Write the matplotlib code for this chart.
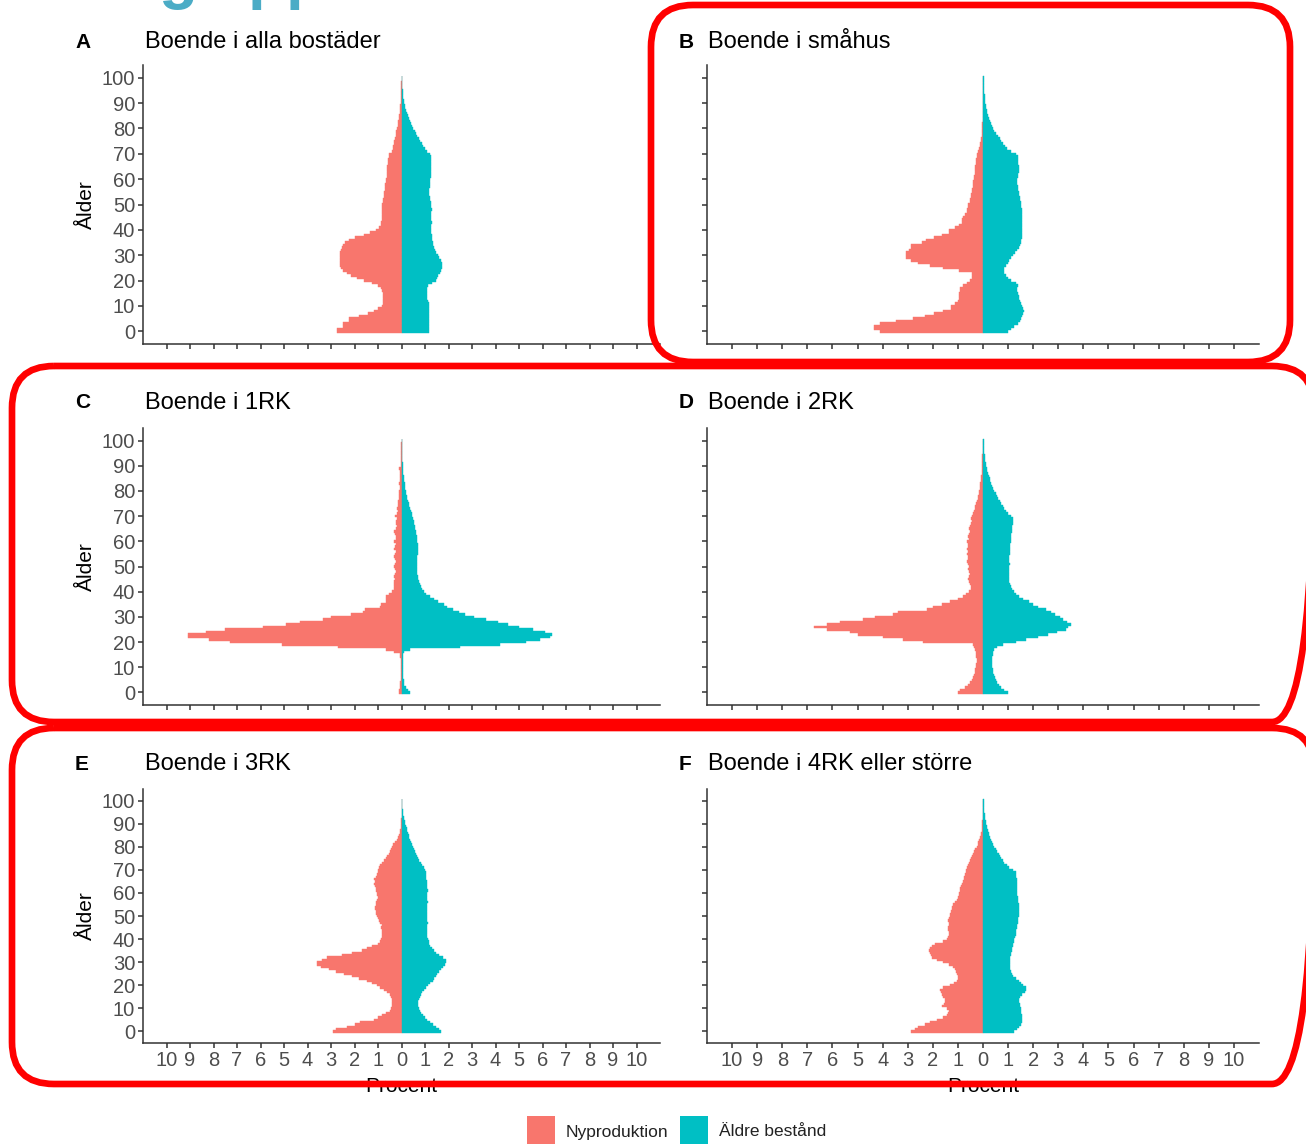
import numpy as np
import matplotlib.pyplot as plt
from matplotlib.patches import FancyBboxPatch, Rectangle

plt.rcParams['font.family'] = ['Liberation Sans', 'DejaVu Sans']

W, H = 1306, 1144
PINK = '#F8766D'
TEAL = '#00BFC4'
GREY = '#4D4D4D'

ages = np.arange(0, 101)

# Procent per ålder (0-100)
# A - alla bostäder
alla_ny = [2.73, 2.73, 2.5, 2.5, 2.24, 2.24, 1.8, 1.43, 1.16, 0.98,
           0.82, 0.8, 0.8, 0.79, 0.79, 0.8, 0.82, 0.86, 0.98, 1.25,
           1.6, 1.88, 2.15, 2.33, 2.48, 2.58, 2.6, 2.62, 2.62, 2.62,
           2.6, 2.6, 2.58, 2.55, 2.5, 2.42, 2.24, 1.97, 1.6, 1.34,
           1.07, 0.94, 0.88, 0.86, 0.85, 0.85, 0.85, 0.84, 0.84, 0.83,
           0.82, 0.8, 0.78, 0.76, 0.75, 0.74, 0.72, 0.7, 0.69, 0.68,
           0.67, 0.63, 0.61, 0.61, 0.6, 0.6, 0.58, 0.56, 0.56, 0.55,
           0.52, 0.42, 0.38, 0.36, 0.34, 0.3, 0.27, 0.25, 0.23, 0.22,
           0.2, 0.17, 0.15, 0.14, 0.12, 0.1, 0.08, 0.07, 0.06, 0.05,
           0.04, 0.03, 0.03, 0.02, 0.02, 0.01, 0.01, 0.01, 0.01, 0.0,
           0.0]
alla_aldre = [1.16, 1.16, 1.16, 1.16, 1.16, 1.16, 1.16, 1.16, 1.16, 1.16,
              1.16, 1.16, 1.14, 1.1, 1.07, 1.07, 1.07, 1.08, 1.12, 1.28,
              1.46, 1.5, 1.55, 1.62, 1.68, 1.72, 1.74, 1.72, 1.68, 1.6,
              1.55, 1.48, 1.42, 1.38, 1.35, 1.32, 1.3, 1.28, 1.28, 1.27,
              1.26, 1.25, 1.26, 1.28, 1.27, 1.25, 1.24, 1.26, 1.28, 1.27,
              1.25, 1.24, 1.22, 1.2, 1.19, 1.18, 1.19, 1.2, 1.2, 1.21,
              1.22, 1.24, 1.25, 1.26, 1.26, 1.27, 1.27, 1.26, 1.25, 1.24,
              1.2, 1.1, 1.0, 0.92, 0.86, 0.8, 0.74, 0.68, 0.62, 0.56,
              0.5, 0.45, 0.4, 0.36, 0.32, 0.28, 0.24, 0.2, 0.17, 0.14,
              0.12, 0.1, 0.08, 0.07, 0.06, 0.05, 0.04, 0.03, 0.03, 0.02,
              0.02]

# B - småhus
smahus_ny = [4.1, 4.33, 4.33, 4.1, 3.45, 2.8, 2.3, 1.95, 1.6, 1.28,
             1.28, 1.1, 0.98, 0.95, 0.95, 0.95, 0.93, 0.9, 0.78, 0.62,
             0.5, 0.45, 0.42, 0.45, 0.95, 1.6, 2.1, 2.6, 2.87, 3.07,
             3.07, 3.07, 2.95, 2.87, 2.87, 2.45, 2.28, 1.95, 1.62, 1.37,
             1.37, 1.12, 0.95, 0.85, 0.82, 0.8, 0.7, 0.65, 0.62, 0.6,
             0.58, 0.52, 0.5, 0.48, 0.46, 0.45, 0.42, 0.4, 0.4, 0.38,
             0.36, 0.34, 0.33, 0.32, 0.32, 0.3, 0.28, 0.27, 0.26, 0.25,
             0.22, 0.18, 0.15, 0.12, 0.1, 0.08, 0.06, 0.05, 0.04, 0.03,
             0.02, 0.02, 0.02, 0.01, 0.01, 0.01, 0.01, 0.01, 0.01, 0.01,
             0.0, 0.0, 0.0, 0.0, 0.0, 0.0, 0.0, 0.0, 0.0, 0.0,
             0.0]
smahus_aldre = [1.0, 1.1, 1.25, 1.4, 1.47, 1.52, 1.56, 1.6, 1.62, 1.6,
                1.56, 1.5, 1.47, 1.45, 1.42, 1.38, 1.36, 1.36, 1.38, 1.3,
                1.1, 0.98, 0.9, 0.84, 0.82, 0.84, 0.9, 0.98, 1.05, 1.12,
                1.2, 1.28, 1.35, 1.42, 1.47, 1.5, 1.52, 1.54, 1.55, 1.56,
                1.56, 1.56, 1.56, 1.55, 1.55, 1.56, 1.56, 1.55, 1.54, 1.52,
                1.5, 1.5, 1.48, 1.46, 1.44, 1.42, 1.4, 1.38, 1.37, 1.36,
                1.36, 1.38, 1.4, 1.42, 1.43, 1.42, 1.4, 1.4, 1.39, 1.38,
                1.3, 1.1, 0.95, 0.88, 0.8, 0.72, 0.66, 0.58, 0.5, 0.44,
                0.4, 0.35, 0.3, 0.26, 0.22, 0.19, 0.16, 0.14, 0.12, 0.1,
                0.09, 0.08, 0.07, 0.06, 0.05, 0.05, 0.04, 0.04, 0.03, 0.03,
                0.02]

# C - 1RK
rk1_ny = [0.12, 0.1, 0.06, 0.05, 0.05, 0.04, 0.04, 0.04, 0.04, 0.04,
          0.04, 0.04, 0.04, 0.04, 0.05, 0.08, 0.3, 0.64, 2.72, 5.1,
          7.3, 8.2, 9.08, 9.08, 8.3, 7.5, 5.9, 4.9, 4.3, 3.36,
          3.0, 2.15, 1.64, 1.55, 0.9, 0.86, 0.64, 0.64, 0.64, 0.55,
          0.4, 0.34, 0.32, 0.3, 0.3, 0.28, 0.3, 0.27, 0.25, 0.28,
          0.3, 0.26, 0.24, 0.28, 0.3, 0.26, 0.25, 0.3, 0.27, 0.25,
          0.32, 0.25, 0.22, 0.26, 0.3, 0.22, 0.2, 0.24, 0.22, 0.2,
          0.26, 0.18, 0.16, 0.2, 0.15, 0.14, 0.16, 0.12, 0.1, 0.12,
          0.1, 0.08, 0.08, 0.1, 0.07, 0.06, 0.06, 0.08, 0.05, 0.1,
          0.04, 0.03, 0.03, 0.02, 0.02, 0.01, 0.01, 0.01, 0.01, 0.01,
          0.0]
rk1_aldre = [0.38, 0.28, 0.18, 0.12, 0.1, 0.09, 0.08, 0.08, 0.07, 0.07,
             0.07, 0.07, 0.07, 0.07, 0.07, 0.08, 0.1, 0.35, 2.5, 4.2,
             5.3, 5.9, 6.3, 6.4, 6.1, 5.6, 5.0, 4.55, 4.1, 3.6,
             3.1, 2.7, 2.45, 2.2, 1.95, 1.8, 1.55, 1.4, 1.2, 1.05,
             0.95, 0.88, 0.82, 0.78, 0.75, 0.72, 0.7, 0.68, 0.67, 0.66,
             0.65, 0.65, 0.66, 0.67, 0.68, 0.69, 0.7, 0.7, 0.7, 0.69,
             0.68, 0.66, 0.64, 0.62, 0.6, 0.58, 0.56, 0.54, 0.52, 0.5,
             0.46, 0.43, 0.4, 0.37, 0.34, 0.31, 0.28, 0.25, 0.22, 0.2,
             0.18, 0.16, 0.14, 0.13, 0.12, 0.1, 0.09, 0.08, 0.07, 0.06,
             0.05, 0.05, 0.04, 0.04, 0.03, 0.03, 0.02, 0.02, 0.02, 0.02,
             0.01]

# D - 2RK
rk2_ny = [1.0, 0.9, 0.7, 0.6, 0.5, 0.42, 0.38, 0.35, 0.32, 0.3,
          0.28, 0.26, 0.25, 0.25, 0.26, 0.27, 0.28, 0.3, 0.35, 0.4,
          2.4, 3.2, 4.0, 5.0, 5.3, 6.2, 6.75, 6.2, 5.7, 4.8,
          4.3, 3.6, 3.4, 2.25, 2.0, 1.65, 1.3, 1.0, 0.8, 0.66,
          0.55, 0.46, 0.46, 0.5, 0.55, 0.58, 0.55, 0.5, 0.56, 0.6,
          0.55, 0.58, 0.62, 0.58, 0.6, 0.65, 0.6, 0.62, 0.58, 0.6,
          0.62, 0.55, 0.58, 0.55, 0.52, 0.56, 0.5, 0.48, 0.45, 0.46,
          0.42, 0.38, 0.36, 0.32, 0.3, 0.27, 0.24, 0.2, 0.18, 0.16,
          0.14, 0.12, 0.11, 0.1, 0.08, 0.07, 0.06, 0.05, 0.05, 0.04,
          0.03, 0.03, 0.02, 0.02, 0.02, 0.01, 0.01, 0.01, 0.01, 0.0,
          0.0]
rk2_aldre = [0.98, 0.85, 0.72, 0.62, 0.55, 0.5, 0.46, 0.42, 0.4, 0.38,
             0.36, 0.35, 0.35, 0.36, 0.36, 0.38, 0.4, 0.45, 0.55, 0.8,
             1.3, 1.7, 2.2, 2.6, 2.95, 3.3, 3.4, 3.5, 3.35, 3.2,
             3.05, 2.85, 2.7, 2.5, 2.2, 2.0, 1.85, 1.6, 1.45, 1.3,
             1.22, 1.15, 1.1, 1.08, 1.05, 1.05, 1.04, 1.03, 1.04, 1.05,
             1.05, 1.06, 1.05, 1.04, 1.05, 1.06, 1.07, 1.07, 1.08, 1.08,
             1.1, 1.1, 1.12, 1.13, 1.14, 1.15, 1.16, 1.18, 1.19, 1.18,
             1.1, 1.0, 0.9, 0.84, 0.78, 0.72, 0.66, 0.6, 0.55, 0.5,
             0.45, 0.4, 0.36, 0.33, 0.29, 0.26, 0.22, 0.19, 0.16, 0.14,
             0.12, 0.1, 0.08, 0.07, 0.06, 0.05, 0.04, 0.03, 0.03, 0.02,
             0.02]

# E - 3RK
rk3_ny = [2.91, 2.8, 2.3, 2.0, 1.75, 1.19, 1.0, 0.84, 0.65, 0.49,
          0.45, 0.42, 0.42, 0.42, 0.42, 0.45, 0.5, 0.63, 0.75, 0.9,
          1.05, 1.25, 1.47, 1.8, 2.1, 2.45, 2.8, 3.1, 3.43, 3.6,
          3.6, 3.4, 3.15, 2.52, 2.1, 1.68, 1.45, 1.26, 1.0, 0.91,
          0.88, 0.84, 0.82, 0.84, 0.84, 0.86, 0.84, 0.9, 0.95, 1.0,
          1.05, 1.1, 1.08, 1.12, 1.12, 1.1, 1.08, 1.05, 1.02, 1.04,
          1.05, 1.08, 1.1, 1.12, 1.15, 1.12, 1.15, 1.1, 1.05, 1.02,
          1.0, 0.95, 0.9, 0.84, 0.75, 0.68, 0.63, 0.55, 0.48, 0.45,
          0.42, 0.35, 0.28, 0.2, 0.14, 0.1, 0.07, 0.05, 0.03, 0.02,
          0.01, 0.01, 0.01, 0.0, 0.0, 0.0, 0.0, 0.0, 0.0, 0.0,
          0.0]
rk3_aldre = [1.7, 1.6, 1.45, 1.32, 1.2, 1.08, 0.98, 0.9, 0.84, 0.78,
             0.74, 0.72, 0.7, 0.72, 0.74, 0.77, 0.82, 0.88, 0.95, 1.05,
             1.12, 1.22, 1.33, 1.4, 1.45, 1.5, 1.58, 1.66, 1.75, 1.85,
             1.9, 1.88, 1.75, 1.6, 1.48, 1.4, 1.3, 1.22, 1.18, 1.15,
             1.12, 1.1, 1.09, 1.1, 1.1, 1.09, 1.1, 1.12, 1.1, 1.08,
             1.08, 1.1, 1.1, 1.09, 1.08, 1.1, 1.12, 1.1, 1.08, 1.1,
             1.1, 1.12, 1.1, 1.08, 1.08, 1.07, 1.06, 1.05, 1.05, 1.04,
             1.0, 0.95, 0.88, 0.82, 0.76, 0.7, 0.65, 0.6, 0.56, 0.52,
             0.49, 0.45, 0.42, 0.38, 0.34, 0.3, 0.28, 0.25, 0.22, 0.19,
             0.16, 0.14, 0.12, 0.1, 0.08, 0.06, 0.05, 0.04, 0.03, 0.03,
             0.02]

# F - 4RK eller större
rk4_ny = [2.85, 2.7, 2.58, 2.3, 2.1, 1.85, 1.6, 1.45, 1.4, 1.37,
          1.45, 1.64, 1.55, 1.5, 1.52, 1.6, 1.65, 1.67, 1.71, 1.6,
          1.3, 1.15, 1.05, 1.0, 1.0, 1.03, 1.08, 1.12, 1.2, 1.35,
          1.6, 1.85, 2.05, 2.08, 2.1, 2.15, 2.1, 2.05, 1.9, 1.6,
          1.45, 1.38, 1.37, 1.36, 1.4, 1.38, 1.36, 1.37, 1.4, 1.35,
          1.32, 1.3, 1.28, 1.25, 1.22, 1.2, 1.1, 1.05, 1.0, 0.97,
          0.96, 0.92, 0.9, 0.87, 0.85, 0.8, 0.76, 0.74, 0.7, 0.68,
          0.66, 0.62, 0.58, 0.55, 0.5, 0.46, 0.43, 0.4, 0.36, 0.3,
          0.25, 0.2, 0.18, 0.15, 0.12, 0.09, 0.07, 0.05, 0.04, 0.03,
          0.02, 0.02, 0.01, 0.01, 0.01, 0.0, 0.0, 0.0, 0.0, 0.0,
          0.0]
rk4_aldre = [1.25, 1.35, 1.45, 1.5, 1.55, 1.55, 1.55, 1.55, 1.52, 1.5,
             1.5, 1.48, 1.46, 1.45, 1.45, 1.48, 1.55, 1.68, 1.72, 1.7,
             1.6, 1.5, 1.42, 1.3, 1.2, 1.14, 1.1, 1.08, 1.07, 1.06,
             1.06, 1.07, 1.08, 1.1, 1.12, 1.14, 1.16, 1.18, 1.2, 1.22,
             1.25, 1.27, 1.3, 1.32, 1.33, 1.35, 1.37, 1.38, 1.4, 1.4,
             1.42, 1.42, 1.43, 1.44, 1.44, 1.42, 1.4, 1.4, 1.38, 1.37,
             1.37, 1.36, 1.36, 1.35, 1.34, 1.34, 1.34, 1.32, 1.31, 1.3,
             1.2, 1.05, 0.95, 0.85, 0.78, 0.72, 0.67, 0.62, 0.56, 0.5,
             0.45, 0.41, 0.37, 0.33, 0.29, 0.25, 0.22, 0.19, 0.17, 0.14,
             0.12, 0.1, 0.08, 0.07, 0.06, 0.05, 0.04, 0.03, 0.03, 0.02,
             0.02]

letters = ['A', 'B', 'C', 'D', 'E', 'F']
titles = ['Boende i alla bostäder', 'Boende i småhus', 'Boende i 1RK',
          'Boende i 2RK', 'Boende i 3RK', 'Boende i 4RK eller större']
ny_series = [alla_ny, smahus_ny, rk1_ny, rk2_ny, rk3_ny, rk4_ny]
aldre_series = [alla_aldre, smahus_aldre, rk1_aldre, rk2_aldre, rk3_aldre, rk4_aldre]
legend_labels = ['Nyproduktion', 'Äldre bestånd']

# axes boxes in pixels: left, top, right, bottom
boxes = [(143, 65, 660, 344), (707, 65, 1259, 344),
         (143, 428, 660, 705), (707, 428, 1259, 705),
         (143, 789, 660, 1043), (707, 789, 1259, 1043)]


def frac(l, t, r, b):
    return [l / W, 1 - b / H, (r - l) / W, (b - t) / H]


fig = plt.figure(figsize=(W / 100, H / 100), dpi=100)

for i in range(6):
    ax = fig.add_axes(frac(*boxes[i]))
    ny = np.array(ny_series[i])
    al = np.array(aldre_series[i])
    ax.barh(ages, -ny, height=1.0, color=PINK, edgecolor=PINK, linewidth=0.3)
    ax.barh(ages, al, height=1.0, color=TEAL, edgecolor=TEAL, linewidth=0.3)
    ax.set_xlim(-11, 11)
    ax.set_ylim(-5, 105)
    ax.set_xticks(range(-10, 11))
    ax.set_yticks(range(0, 101, 10))
    for s in ['top', 'right']:
        ax.spines[s].set_visible(False)
    for s in ['left', 'bottom']:
        ax.spines[s].set_color('#333333')
        ax.spines[s].set_linewidth(1.1)
    ax.tick_params(length=3.6, width=1.1, color='#333333', labelcolor=GREY,
                   labelsize=14.5, pad=2)
    if i >= 4:
        ax.set_xticklabels([str(abs(v)) for v in range(-10, 11)])
        ax.set_xlabel('Procent', fontsize=15, labelpad=5)
    else:
        ax.set_xticklabels([])
    if i % 2 == 0:
        ax.set_ylabel('Ålder', fontsize=15, labelpad=4)
    else:
        ax.set_yticklabels([])

# overlay in pixel coordinates for titles, frames and legend
ov = fig.add_axes([0, 0, 1, 1], zorder=10)
ov.set_xlim(0, W)
ov.set_ylim(H, 0)
ov.axis('off')

title_pos = [(75, 145, 42), (679, 708, 42), (75, 145, 403), (679, 708, 403),
             (75, 145, 764), (679, 708, 764)]
for (lx, tx, ty), let, tit in zip(title_pos, letters, titles):
    ov.text(lx, ty, let, fontsize=15, fontweight='bold', va='center', ha='left')
    ov.text(tx, ty, tit, fontsize=17, va='center', ha='left')

# cut-off heading at the top
ov.text(158, -3, 'g', fontsize=46, fontweight='bold', color='#4BACC6',
        va='baseline', ha='left', clip_on=False)
ov.text(248, -3, 'pp', fontsize=46, fontweight='bold', color='#4BACC6',
        va='baseline', ha='left', clip_on=False)

# red frames
frames = [(651, 5, 1290, 362), (12, 366, 1314, 722), (12, 728, 1314, 1084)]
for l, t, r, b in frames:
    ov.add_patch(FancyBboxPatch((l, t), r - l, b - t,
                                boxstyle='round,pad=0,rounding_size=42',
                                fill=False, edgecolor='#FF0000', linewidth=4.8))

# legend
for x0, col, lab in [(527, PINK, legend_labels[0]), (680, TEAL, legend_labels[1])]:
    ov.add_patch(Rectangle((x0, 1116), 28, 40, facecolor=col, edgecolor='none'))
    ov.text(x0 + 39, 1132, lab, fontsize=12.5, va='center', ha='left', color='#222222')

fig.savefig('out.png', dpi=100)
